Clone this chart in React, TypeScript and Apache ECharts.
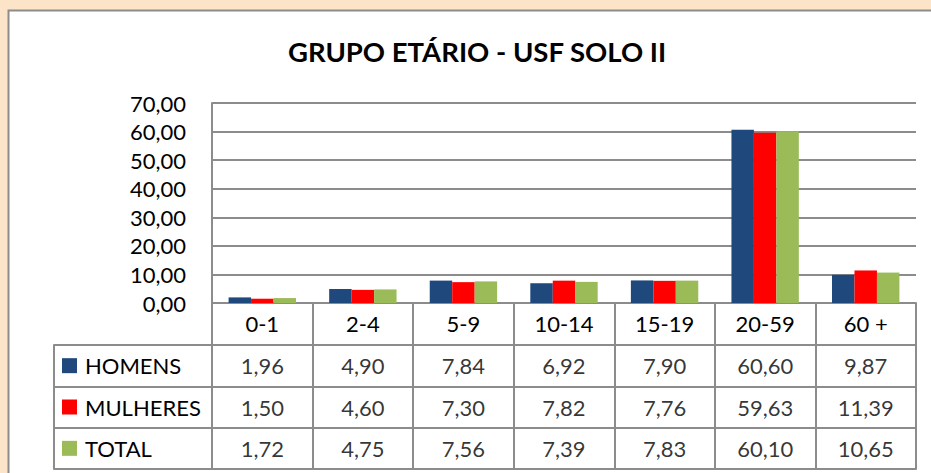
import React, { useEffect, useRef } from "react";
import * as echarts from "echarts";

const categories = ["0-1", "2-4", "5-9", "10-14", "15-19", "20-59", "60 +"];
const seriesNames = ["HOMENS", "MULHERES", "TOTAL"];
const homens = [1.96, 4.9, 7.84, 6.92, 7.9, 60.6, 9.87];
const mulheres = [1.5, 4.6, 7.3, 7.82, 7.76, 59.63, 11.39];
const total = [1.72, 4.75, 7.56, 7.39, 7.83, 60.1, 10.65];
const colors = ["#1F497D", "#FF0000", "#9BBB59"];
const yTicks = { min: 0, max: 70, interval: 10 };

const FONT = "Lato";
const LINE = "#8C8C8C";
const fmt = (v: number) => v.toFixed(2).replace(".", ",");

export default function App() {
  const ref = useRef<HTMLDivElement>(null);
  useEffect(() => {
    if (!ref.current) return;
    const chart = echarts.init(ref.current, null, { renderer: "svg" });
    const values = [homens, mulheres, total];
    const tableData: any[] = [];
    values.forEach((arr, r) =>
      arr.forEach((v, c) => tableData.push([categories[c], seriesNames[r], v]))
    );
    const rich: any = {
      t: { fontFamily: FONT, fontSize: 22, color: "#000", padding: [0, 0, 0, 8] },
    };
    colors.forEach((c, i) => {
      rich["c" + i] = { width: 15, height: 15, backgroundColor: c };
    });
    chart.setOption({
      animation: false,
      backgroundColor: "#FCE4C9",
      textStyle: { fontFamily: FONT },
      graphic: [
        {
          type: "rect",
          shape: { x: 8.5, y: 10.5, width: 960, height: 480 },
          style: { fill: "#FFFFFF", stroke: "#8C8C8C", lineWidth: 2 },
          z: -10,
        },
        {
          type: "text",
          x: 477,
          y: 37,
          style: {
            text: "GRUPO ETÁRIO - USF SOLO II",
            fontFamily: FONT,
            fontWeight: "bold",
            fontSize: 27.5,
            fill: "#000",
            textAlign: "center",
          },
        },
      ],
      grid: [
        { left: 212, top: 103, width: 704, height: 200 },
        { left: 212, top: 345, width: 704, height: 124 },
      ],
      xAxis: [
        {
          type: "category",
          gridIndex: 0,
          data: categories,
          axisLine: { lineStyle: { color: LINE, width: 2 } },
          axisTick: { show: true, length: 42, interval: 0, lineStyle: { color: LINE, width: 2 } },
          axisLabel: { fontFamily: FONT, fontSize: 22, color: "#000", margin: 9, interval: 0 },
        },
        {
          type: "category",
          gridIndex: 1,
          position: "top",
          data: categories,
          axisLine: { show: true, lineStyle: { color: LINE, width: 2 } },
          axisTick: { show: false },
          axisLabel: { show: false },
          splitLine: { show: true, interval: 0, lineStyle: { color: LINE, width: 2 } },
        },
        {
          type: "category",
          gridIndex: 1,
          position: "bottom",
          data: categories,
          axisLine: { show: true, lineStyle: { color: LINE, width: 2 } },
          axisTick: { show: false },
          axisLabel: { show: false },
        },
      ],
      yAxis: [
        {
          type: "value",
          gridIndex: 0,
          ...yTicks,
          axisLine: { show: true, lineStyle: { color: LINE, width: 2 } },
          axisTick: { show: false },
          splitLine: { show: true, lineStyle: { color: LINE, width: 2 } },
          axisLabel: {
            fontFamily: FONT,
            fontSize: 22,
            color: "#000",
            margin: 26,
            formatter: (v: number) => fmt(v),
          },
        },
        {
          type: "category",
          gridIndex: 1,
          inverse: true,
          data: seriesNames,
          axisLine: { show: true, lineStyle: { color: LINE, width: 2 } },
          axisTick: { show: true, length: 158, interval: 0, lineStyle: { color: LINE, width: 2 } },
          splitLine: { show: true, interval: 0, lineStyle: { color: LINE, width: 2 } },
          axisLabel: {
            margin: 150,
            align: "left",
            interval: 0,
            formatter: (v: string, i: number) => `{c${i}|}{t|${v}}`,
            rich,
          },
        },
        {
          type: "category",
          gridIndex: 1,
          position: "left",
          offset: 158,
          data: seriesNames,
          axisLine: { show: true, lineStyle: { color: LINE, width: 2 } },
          axisTick: { show: false },
          axisLabel: { show: false },
        },
      ],
      series: [
        ...values.map((arr, i) => ({
          type: "bar",
          name: seriesNames[i],
          xAxisIndex: 0,
          yAxisIndex: 0,
          data: arr,
          barGap: "0%",
          barCategoryGap: "33%",
          itemStyle: { color: colors[i] },
        })),
        {
          type: "scatter",
          xAxisIndex: 1,
          yAxisIndex: 1,
          symbolSize: 1,
          itemStyle: { color: "rgba(0,0,0,0)" },
          data: tableData,
          label: {
            show: true,
            position: "inside",
            fontFamily: FONT,
            fontSize: 22,
            color: "#000",
            formatter: (p: any) => fmt(p.value[2]),
          },
        },
      ],
    });
    return () => chart.dispose();
  }, []);
  return (
    <div
      ref={ref}
      style={{ position: "absolute", left: 0, top: 0, width: 931, height: 473 }}
    />
  );
}
